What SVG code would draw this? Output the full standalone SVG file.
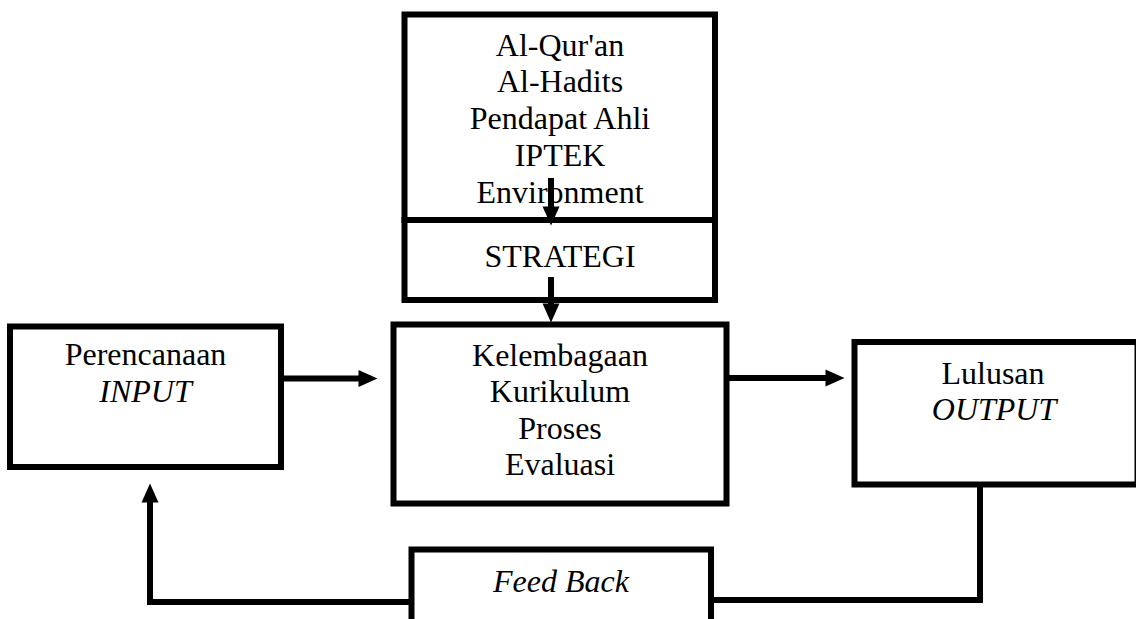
<svg xmlns="http://www.w3.org/2000/svg" width="1136" height="619" viewBox="0 0 1136 619">
<style>
.box{fill:#fff;stroke:#000;stroke-width:6}
.t{font-family:"Liberation Serif","Times New Roman",serif;font-size:32px;fill:#000;text-anchor:middle}
.i{font-style:italic}
.c{fill:none;stroke:#000;stroke-width:6;stroke-linejoin:miter}
</style>
<defs>
<marker id="ah" markerUnits="userSpaceOnUse" markerWidth="20" markerHeight="18" viewBox="0 0 19 18" refX="0.5" refY="9" orient="auto">
<path d="M0,0.5 L19,9 L0,17.5 Z" fill="#000"/>
</marker>
</defs>
<g id="sources">
<rect class="box" x="404.5" y="14.5" width="310.5" height="205.5"/>
<text class="t" x="560" y="56">Al-Qur'an</text>
<text class="t" x="560" y="92">Al-Hadits</text>
<text class="t" x="560" y="129">Pendapat Ahli</text>
<text class="t" x="560" y="166">IPTEK</text>
<text class="t" x="560" y="203">Environment</text>
</g>
<g id="strategi">
<rect class="box" x="404.5" y="220" width="310.5" height="80"/>
<text class="t" x="560" y="267">STRATEGI</text>
</g>
<g id="input">
<rect class="box" x="10" y="326.5" width="271" height="140.5"/>
<text class="t" x="145.5" y="365">Perencanaan</text>
<text class="t i" x="145.5" y="402">INPUT</text>
</g>
<g id="process">
<rect class="box" x="393.5" y="324.5" width="333" height="179"/>
<text class="t" x="560" y="365.5">Kelembagaan</text>
<text class="t" x="560" y="402">Kurikulum</text>
<text class="t" x="560" y="438.5">Proses</text>
<text class="t" x="560" y="475">Evaluasi</text>
</g>
<g id="output">
<rect class="box" x="854.5" y="342" width="283" height="142.5"/>
<text class="t" x="993" y="384">Lulusan</text>
<text class="t i" x="994" y="420">OUTPUT</text>
</g>
<g id="feedback">
<rect class="box" x="411.5" y="549.5" width="299.5" height="80"/>
<text class="t i" x="561" y="592">Feed Back</text>
</g>
<g id="connectors">
<line class="c" x1="551" y1="178" x2="551" y2="207" marker-end="url(#ah)"/>
<line class="c" x1="551" y1="277" x2="551" y2="304" marker-end="url(#ah)"/>
<line class="c" x1="281" y1="378.5" x2="359" y2="378.5" marker-end="url(#ah)"/>
<line class="c" x1="729" y1="378" x2="826" y2="378" marker-end="url(#ah)"/>
<path class="c" d="M980,487 V600 H711"/>
<path class="c" d="M411,602 H150 V502" marker-end="url(#ah)"/>
</g>
</svg>
